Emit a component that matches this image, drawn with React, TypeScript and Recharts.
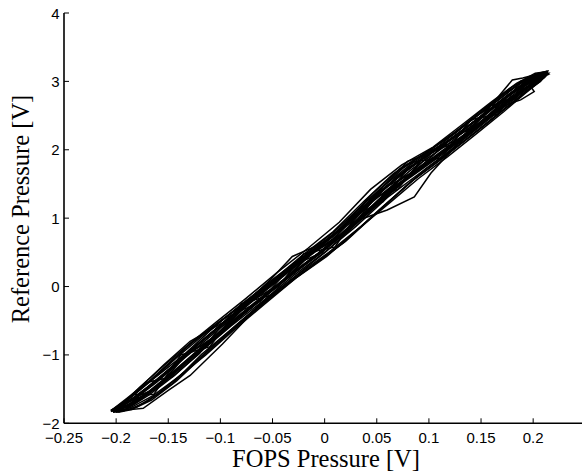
import { Line, LineChart, XAxis, YAxis } from 'recharts'

type Pt = [number, number]

const xTicks = [-0.25, -0.2, -0.15, -0.1, -0.05, 0, 0.05, 0.1, 0.15, 0.2]
const yTicks = [-2, -1, 0, 1, 2, 3, 4]

// each loop: one sweep up then back down (FOPS [V], reference [V])
const loop1: Pt[] = [
  [-0.201, -1.82], [-0.193, -1.78], [-0.176, -1.62], [-0.151, -1.36], [-0.121, -0.96], [-0.087, -0.52],
  [-0.051, -0.06], [-0.013, 0.4], [0.024, 0.84], [0.061, 1.38], [0.097, 1.78], [0.129, 2.14],
  [0.158, 2.5], [0.184, 2.8], [0.201, 2.99], [0.21, 3.08],
  [0.207, 3.11], [0.195, 3.02], [0.174, 2.78], [0.147, 2.45], [0.114, 2.08], [0.079, 1.72],
  [0.041, 1.2], [0.003, 0.68], [-0.035, 0.24], [-0.071, -0.22], [-0.105, -0.64], [-0.136, -1.03],
  [-0.163, -1.4], [-0.184, -1.65], [-0.198, -1.77], [-0.204, -1.81],
]
const loop2: Pt[] = [
  [-0.203, -1.8], [-0.188, -1.74], [-0.166, -1.52], [-0.139, -1.2], [-0.106, -0.74], [-0.07, -0.31],
  [-0.033, 0.16], [0.005, 0.6], [0.043, 1.12], [0.08, 1.6], [0.114, 1.98], [0.145, 2.33],
  [0.172, 2.66], [0.193, 2.9], [0.206, 3.03], [0.212, 3.1],
  [0.213, 3.13], [0.203, 3.08], [0.186, 2.91], [0.161, 2.62], [0.131, 2.27], [0.096, 1.89],
  [0.059, 1.47], [0.021, 0.91], [-0.017, 0.45], [-0.054, -0.01], [-0.089, -0.43], [-0.121, -0.84],
  [-0.15, -1.24], [-0.174, -1.54], [-0.191, -1.72], [-0.2, -1.78],
]
const loop3: Pt[] = [
  [-0.199, -1.79], [-0.19, -1.75], [-0.172, -1.58], [-0.146, -1.28], [-0.116, -0.88], [-0.082, -0.45],
  [-0.046, 0.0], [-0.008, 0.45], [0.031, 0.95], [0.068, 1.48], [0.104, 1.86], [0.136, 2.23],
  [0.165, 2.58], [0.188, 2.86], [0.204, 3.02], [0.213, 3.11],
  [0.211, 3.12], [0.199, 3.04], [0.179, 2.83], [0.153, 2.52], [0.121, 2.16], [0.087, 1.8],
  [0.05, 1.35], [0.012, 0.8], [-0.026, 0.35], [-0.062, -0.08], [-0.097, -0.52], [-0.129, -0.8],
  [-0.154, -1.14], [-0.18, -1.52], [-0.195, -1.74], [-0.202, -1.8],
]
const loop4: Pt[] = [
  [-0.202, -1.81], [-0.186, -1.8], [-0.174, -1.78], [-0.15, -1.52], [-0.129, -1.3], [-0.098, -0.84],
  [-0.068, -0.36], [-0.034, 0.08], [0.002, 0.52], [0.038, 1.02], [0.075, 1.52], [0.11, 1.9],
  [0.142, 2.27], [0.17, 2.62], [0.192, 2.88], [0.207, 3.04],
  [0.212, 3.12], [0.201, 3.06], [0.182, 2.86], [0.156, 2.56], [0.125, 2.19], [0.09, 1.83],
  [0.053, 1.38], [0.015, 0.82], [-0.022, 0.4], [-0.058, -0.04], [-0.093, -0.48], [-0.125, -0.88],
  [-0.154, -1.28], [-0.177, -1.56], [-0.193, -1.73], [-0.201, -1.79],
]
const loop5: Pt[] = [
  [-0.2, -1.81], [-0.189, -1.76], [-0.169, -1.56], [-0.143, -1.24], [-0.112, -0.82], [-0.078, -0.38],
  [-0.042, 0.06], [-0.004, 0.48], [0.034, 0.98], [0.06, 1.12], [0.086, 1.31], [0.102, 1.66],
  [0.132, 2.16], [0.162, 2.54], [0.186, 2.84], [0.203, 3.01], [0.211, 3.09],
  [0.209, 3.1], [0.197, 3.03], [0.177, 2.81], [0.15, 2.49], [0.118, 2.12], [0.083, 1.75],
  [0.045, 1.27], [0.007, 0.72], [-0.01, 0.58], [-0.031, 0.44], [-0.052, 0.1], [-0.08, -0.3],
  [-0.113, -0.73], [-0.144, -1.14], [-0.17, -1.47], [-0.189, -1.69], [-0.199, -1.78],
]
const loop6: Pt[] = [
  [-0.204, -1.82], [-0.195, -1.79], [-0.18, -1.68], [-0.155, -1.41], [-0.126, -1.01], [-0.092, -0.57],
  [-0.056, -0.12], [-0.018, 0.34], [0.02, 0.8], [0.058, 1.35], [0.094, 1.76], [0.127, 2.12],
  [0.156, 2.48], [0.181, 2.78], [0.199, 2.97], [0.209, 3.07],
  [0.214, 3.13], [0.203, 3.1], [0.19, 3.05], [0.18, 3.02], [0.145, 2.38], [0.111, 2.05],
  [0.092, 1.9], [0.0795, 1.83], [0.044, 1.27], [0.006, 0.72], [-0.03, 0.31], [-0.066, -0.14],
  [-0.1, -0.57], [-0.132, -0.98], [-0.16, -1.36], [-0.182, -1.62], [-0.196, -1.75], [-0.203, -1.8],
]
const loop7: Pt[] = [
  [-0.198, -1.78], [-0.184, -1.7], [-0.161, -1.46], [-0.133, -1.09], [-0.101, -0.67], [-0.066, -0.24],
  [-0.029, 0.22], [0.009, 0.66], [0.047, 1.19], [0.084, 1.66], [0.118, 2.01], [0.15, 2.39],
  [0.175, 2.66], [0.188, 2.73], [0.201, 2.85], [0.196, 2.96], [0.21, 3.1],
  [0.206, 3.08], [0.192, 2.99], [0.17, 2.73], [0.142, 2.39], [0.108, 2.01], [0.072, 1.63],
  [0.034, 1.09], [-0.004, 0.59], [-0.042, 0.15], [-0.078, -0.3], [-0.111, -0.71], [-0.141, -1.11],
  [-0.167, -1.45], [-0.186, -1.67], [-0.199, -1.77], [-0.205, -1.82],
]
const loop8: Pt[] = [
  [-0.203, -1.81], [-0.191, -1.75], [-0.171, -1.56], [-0.145, -1.24], [-0.114, -0.83], [-0.079, -0.38],
  [-0.043, 0.06], [-0.006, 0.49], [0.032, 0.99], [0.069, 1.52], [0.105, 1.9], [0.137, 2.26],
  [0.166, 2.62], [0.189, 2.9], [0.205, 3.05], [0.214, 3.12],
  [0.21, 3.11], [0.198, 3.01], [0.178, 2.81], [0.151, 2.47], [0.119, 2.09], [0.084, 1.72],
  [0.046, 1.24], [0.008, 0.7], [-0.03, 0.27], [-0.067, -0.19], [-0.102, -0.63], [-0.134, -1.04],
  [-0.161, -1.4], [-0.181, -1.63], [-0.196, -1.76], [-0.202, -1.8],
]
const loop9: Pt[] = [
  [-0.205, -1.83], [-0.196, -1.74], [-0.182, -1.55], [-0.16, -1.3], [-0.135, -1.0], [-0.108, -0.62],
  [-0.08, -0.26], [-0.052, 0.06], [-0.022, 0.45], [0.008, 0.8], [0.038, 1.25], [0.066, 1.65],
  [0.094, 1.92], [0.122, 2.22], [0.15, 2.57], [0.176, 2.86], [0.196, 3.04], [0.212, 3.14],
  [0.208, 3.02], [0.192, 2.84], [0.168, 2.54], [0.14, 2.2], [0.11, 1.84], [0.08, 1.5],
  [0.05, 1.08], [0.02, 0.66], [-0.012, 0.3], [-0.044, -0.04], [-0.076, -0.45], [-0.106, -0.85],
  [-0.134, -1.24], [-0.16, -1.57], [-0.18, -1.76], [-0.194, -1.82], [-0.203, -1.83],
]
const loop10: Pt[] = [
  [-0.202, -1.78], [-0.19, -1.64], [-0.17, -1.4], [-0.146, -1.32], [-0.12, -0.98], [-0.092, -0.44],
  [-0.062, -0.22], [-0.032, 0.3], [-0.002, 0.5], [0.028, 1.04], [0.056, 1.24], [0.084, 1.82],
  [0.112, 1.88], [0.14, 2.44], [0.166, 2.52], [0.188, 3.0], [0.204, 2.98], [0.213, 3.12],
  [0.209, 3.13], [0.199, 3.08], [0.182, 2.74], [0.158, 2.64], [0.13, 2.1], [0.1, 1.99],
  [0.07, 1.42], [0.04, 1.26], [0.01, 0.58], [-0.02, 0.48], [-0.05, -0.12], [-0.08, -0.25],
  [-0.11, -0.88], [-0.138, -1.0], [-0.164, -1.58], [-0.184, -1.58], [-0.198, -1.8], [-0.205, -1.82],
]
const loop11: Pt[] = [
  [-0.2, -1.83], [-0.186, -1.77], [-0.165, -1.6], [-0.14, -1.32], [-0.114, -1.0], [-0.086, -0.62],
  [-0.058, -0.26], [-0.028, 0.12], [0.002, 0.44], [0.032, 0.84], [0.062, 1.22], [0.09, 1.58],
  [0.118, 1.9], [0.146, 2.24], [0.172, 2.56], [0.192, 2.82], [0.205, 2.98], [0.211, 3.06],
  [0.212, 3.14], [0.202, 3.12], [0.184, 2.97], [0.16, 2.7], [0.133, 2.38], [0.104, 2.04],
  [0.074, 1.78], [0.044, 1.42], [0.014, 0.94], [-0.016, 0.56], [-0.046, 0.2], [-0.076, -0.18],
  [-0.104, -0.52], [-0.13, -0.84], [-0.156, -1.18], [-0.178, -1.48], [-0.193, -1.7], [-0.202, -1.8],
]
const loop12: Pt[] = [
  [-0.204, -1.8], [-0.197, -1.8], [-0.185, -1.72], [-0.163, -1.5], [-0.137, -1.16], [-0.109, -0.82],
  [-0.079, -0.42], [-0.048, -0.03], [-0.016, 0.36], [0.015, 0.72], [0.046, 1.14], [0.076, 1.55],
  [0.106, 1.88], [0.135, 2.21], [0.162, 2.54], [0.185, 2.82], [0.2, 2.98], [0.21, 3.06],
  [0.213, 3.1], [0.204, 3.07], [0.187, 2.92], [0.163, 2.65], [0.135, 2.32], [0.103, 1.96],
  [0.07, 1.62], [0.036, 1.12], [0.001, 0.64], [-0.034, 0.24], [-0.068, -0.18], [-0.101, -0.58],
  [-0.131, -0.97], [-0.158, -1.34], [-0.18, -1.6], [-0.195, -1.74], [-0.203, -1.81],
]
const loop13: Pt[] = [
  [-0.201, -1.8], [-0.192, -1.7], [-0.178, -1.52], [-0.158, -1.24], [-0.132, -0.88], [-0.104, -0.55],
  [-0.074, -0.22], [-0.044, 0.14], [-0.014, 0.48], [0.016, 0.86], [0.046, 1.36], [0.072, 1.72],
  [0.098, 1.97], [0.126, 2.25], [0.154, 2.6], [0.178, 2.9], [0.196, 3.06], [0.208, 3.12], [0.215, 3.12],
  [0.211, 3.06], [0.2, 2.94], [0.181, 2.7], [0.157, 2.4], [0.128, 2.06], [0.097, 1.72],
  [0.066, 1.3], [0.035, 0.88], [0.004, 0.5], [-0.027, 0.16], [-0.058, -0.21], [-0.089, -0.62],
  [-0.118, -0.99], [-0.146, -1.42], [-0.17, -1.68], [-0.188, -1.8], [-0.2, -1.84],
]
const loop14: Pt[] = [
  [-0.203, -1.84], [-0.194, -1.82], [-0.181, -1.7], [-0.16, -1.46], [-0.134, -1.02], [-0.105, -0.72],
  [-0.075, -0.26], [-0.045, 0.02], [-0.015, 0.46], [0.015, 0.73], [0.045, 1.26], [0.074, 1.53],
  [0.103, 1.96], [0.131, 2.18], [0.158, 2.58], [0.183, 2.8], [0.201, 3.06], [0.214, 3.1],
  [0.21, 3.12], [0.196, 2.98], [0.176, 2.78], [0.15, 2.4], [0.12, 2.14], [0.088, 1.7],
  [0.055, 1.42], [0.022, 0.8], [-0.01, 0.52], [-0.042, 0.04], [-0.073, -0.24], [-0.104, -0.74],
  [-0.133, -1.0], [-0.16, -1.48], [-0.182, -1.62], [-0.197, -1.78], [-0.204, -1.8],
]
const loop15: Pt[] = [
  [-0.205, -1.81], [-0.19, -1.66], [-0.172, -1.44], [-0.15, -1.14], [-0.126, -0.8], [-0.098, -0.48],
  [-0.066, -0.12], [-0.034, 0.28], [-0.004, 0.62], [0.026, 0.98], [0.054, 1.44], [0.082, 1.78],
  [0.11, 2.06], [0.138, 2.4], [0.164, 2.7], [0.186, 2.96], [0.203, 3.1], [0.213, 3.14],
  [0.207, 3.0], [0.194, 2.86], [0.174, 2.62], [0.148, 2.3], [0.117, 1.92], [0.085, 1.56],
  [0.052, 1.12], [0.018, 0.64], [-0.016, 0.26], [-0.05, -0.14], [-0.083, -0.56], [-0.114, -0.98],
  [-0.142, -1.38], [-0.166, -1.66], [-0.185, -1.8], [-0.198, -1.84],
]
const loop16: Pt[] = [
  [-0.199, -1.77], [-0.187, -1.76], [-0.168, -1.58], [-0.144, -1.3], [-0.118, -0.94], [-0.09, -0.58],
  [-0.06, -0.22], [-0.03, 0.16], [0.0, 0.5], [0.03, 0.88], [0.06, 1.3], [0.088, 1.62],
  [0.116, 1.94], [0.144, 2.28], [0.17, 2.6], [0.19, 2.84], [0.204, 3.0], [0.212, 3.08],
  [0.214, 3.15], [0.205, 3.12], [0.19, 3.0], [0.166, 2.72], [0.138, 2.4], [0.107, 2.06],
  [0.076, 1.74], [0.044, 1.3], [0.012, 0.84], [-0.02, 0.45], [-0.052, 0.08], [-0.084, -0.32],
  [-0.114, -0.68], [-0.142, -1.04], [-0.168, -1.4], [-0.186, -1.62], [-0.199, -1.77], [-0.205, -1.81],
]

const loops = [
  loop1, loop2, loop3, loop4, loop5, loop6, loop7, loop8,
  loop9, loop10, loop11, loop12, loop13, loop14, loop15, loop16,
]

const tickFont = { fontFamily: 'Liberation Sans, Arial, sans-serif', fontSize: 15, fill: '#000' }
const fmt = (v: number) => String(v).replace('-', '\u2212')

// MATLAB style: tick marks point into the plot box
function BottomTick({ x, y, payload }: any) {
  return (
    <g>
      <line x1={x} x2={x} y1={y} y2={y - 5} stroke="#000" />
      <text x={x} y={y + 20} textAnchor="middle" {...tickFont}>{fmt(payload.value)}</text>
    </g>
  )
}
function LeftTick({ x, y, payload }: any) {
  return (
    <g>
      <line x1={x} x2={x + 5} y1={y} y2={y} stroke="#000" />
      <text x={x - 4.5} y={y + 5.5} textAnchor="end" {...tickFont}>{fmt(payload.value)}</text>
    </g>
  )
}
function TopTick({ x, y }: any) {
  return <line x1={x} x2={x} y1={y} y2={y + 5} stroke="#000" />
}
function RightTick({ x, y }: any) {
  return <line x1={x} x2={x - 5} y1={y} y2={y} stroke="#000" />
}

const axisLine = { stroke: '#000', strokeWidth: 1.6 }

export default function App() {
  return (
    <div style={{ position: 'fixed', left: 0, top: 0, width: 582, height: 472, overflow: 'hidden', background: '#fff' }}>
      <LineChart width={600} height={472} margin={{ top: 13, right: 14.7, bottom: 0, left: 0 }}>
        <XAxis
          xAxisId="b"
          type="number"
          dataKey="x"
          domain={[-0.25, 0.25]}
          ticks={xTicks}
          height={48.7}
          tickSize={0}
          tickMargin={0}
          tickLine={false}
          tick={<BottomTick />}
          axisLine={axisLine}
          interval={0}
        />
        <XAxis
          xAxisId="t"
          orientation="top"
          type="number"
          dataKey="x"
          domain={[-0.25, 0.25]}
          ticks={xTicks}
          height={0}
          tickSize={0}
          tickMargin={0}
          tickLine={false}
          tick={<TopTick />}
          axisLine={axisLine}
          interval={0}
        />
        <YAxis
          yAxisId="l"
          type="number"
          domain={[-2, 4]}
          ticks={yTicks}
          width={64}
          tickSize={0}
          tickMargin={0}
          tickLine={false}
          tick={<LeftTick />}
          axisLine={axisLine}
          interval={0}
        />
        <YAxis
          yAxisId="r"
          orientation="right"
          type="number"
          domain={[-2, 4]}
          ticks={yTicks}
          width={0}
          tickSize={0}
          tickMargin={0}
          tickLine={false}
          tick={<RightTick />}
          axisLine={axisLine}
          interval={0}
        />
        {loops.map((pts, i) => (
          <Line
            key={i}
            xAxisId="b"
            yAxisId="l"
            data={pts.map(([x, y]) => ({ x, y }))}
            dataKey="y"
            stroke="#000"
            strokeWidth={1.5}
            dot={false}
            activeDot={false}
            isAnimationActive={false}
          />
        ))}
      </LineChart>
      <svg width={582} height={472} style={{ position: 'absolute', left: 0, top: 0, pointerEvents: 'none' }}>
        <text x={326} y={467} textAnchor="middle" fontFamily="Liberation Serif, Times New Roman, serif" fontSize={24.5} fill="#000">
          FOPS Pressure [V]
        </text>
        <text
          transform="translate(28.5, 209) rotate(-90)"
          textAnchor="middle"
          fontFamily="Liberation Serif, Times New Roman, serif"
          fontSize={24.5}
          fill="#000"
        >
          Reference Pressure [V]
        </text>
      </svg>
    </div>
  )
}
